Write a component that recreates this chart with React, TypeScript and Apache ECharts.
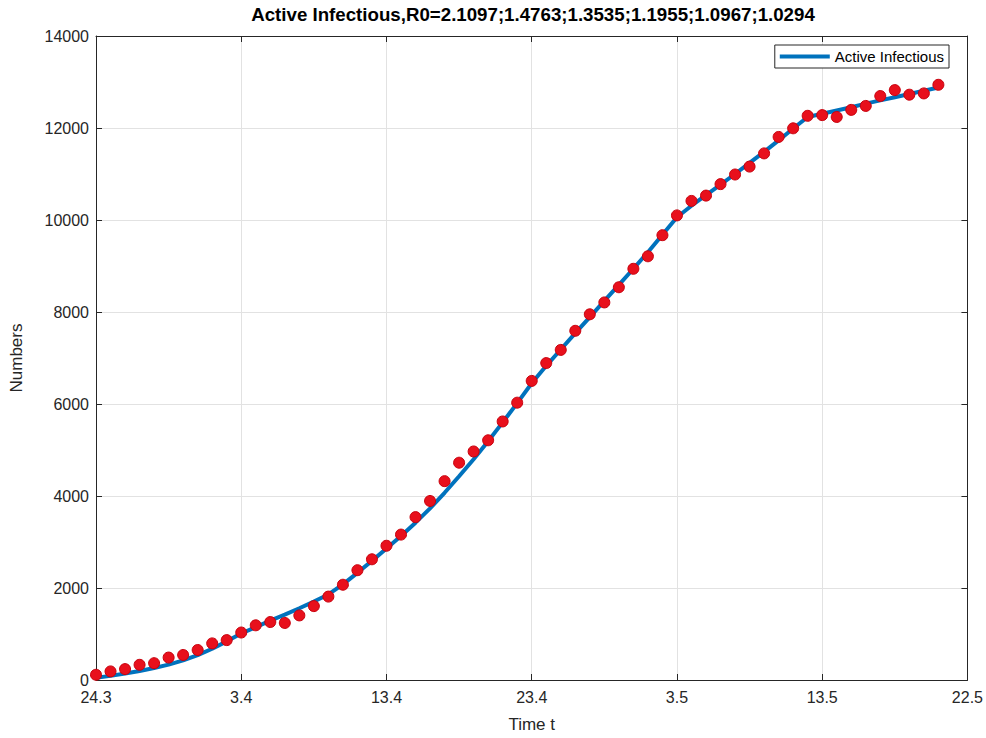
import React, { useEffect, useRef } from "react";
import * as echarts from "echarts";

const tickLabels = ["24.3", "3.4", "13.4", "23.4", "3.5", "13.5", "22.5"];
const days = Array.from({ length: 59 }, (_, i) => i);
const observed = [
  114, 187, 237, 330, 366, 488, 544, 652, 796, 867,
  1032, 1189, 1260, 1240, 1404, 1606, 1813, 2071, 2387, 2624,
  2918, 3161, 3541, 3892, 4323, 4724, 4968, 5211, 5620, 6029,
  6502, 6889, 7176, 7591, 7950, 8208, 8538, 8939, 9211, 9670,
  10100, 10415, 10530, 10780, 10989, 11161, 11448, 11806, 11993, 12265,
  12280, 12240, 12394, 12480, 12695, 12824, 12724, 12752, 12939,
];
const model = [
  50, 90, 140, 195, 260, 335, 425, 540, 680, 840,
  1010, 1150, 1290, 1420, 1560, 1705, 1860, 2080, 2330, 2590,
  2860, 3130, 3420, 3730, 4070, 4430, 4800, 5190, 5600, 6020,
  6450, 6830, 7185, 7540, 7890, 8240, 8590, 8940, 9300, 9680,
  10060, 10310, 10540, 10770, 11000, 11240, 11480, 11730, 11990, 12240,
  12310, 12380, 12450, 12530, 12600, 12670, 12740, 12810, 12880,
];
const titleText = "Active Infectious,R0=2.1097;1.4763;1.3535;1.1955;1.0967;1.0294";
const seriesName = "Active Infectious";

const FONT = '"Liberation Sans", Arial, sans-serif';
const AX = "#262626";
const GRID = "#e2e2e2";

export default function App() {
  const ref = useRef<HTMLDivElement>(null);
  useEffect(() => {
    if (!ref.current) return;
    const chart = echarts.init(ref.current, null, { renderer: "svg" });
    const xBase = {
      type: "value" as const,
      min: 0,
      max: 60,
      interval: 10,
    };
    const yBase = {
      type: "value" as const,
      min: 0,
      max: 14000,
      interval: 2000,
    };
    chart.setOption({
      animation: false,
      backgroundColor: "#ffffff",
      grid: { left: 89, right: 11, top: 36, bottom: 51, containLabel: false },
      graphic: [
        {
          type: "text",
          x: 533,
          y: 14,
          style: {
            text: titleText,
            textAlign: "center",
            textVerticalAlign: "middle",
            font: `bold 18.7px ${FONT}`,
            fill: "#000000",
          },
        },
      ],
      legend: {
        data: [{ name: seriesName, icon: "rect" }],
        right: 37,
        top: 45,
        orient: "vertical",
        itemWidth: 50,
        itemHeight: 4,
        padding: [4, 5, 4, 5],
        backgroundColor: "#ffffff",
        borderColor: AX,
        borderWidth: 1,
        borderRadius: 0,
        textStyle: { fontFamily: FONT, fontSize: 15, color: "#000" },
      },
      xAxis: [
        {
          ...xBase,
          position: "bottom",
          name: "Time t",
          nameLocation: "middle",
          nameGap: 36,
          nameTextStyle: { fontFamily: FONT, fontSize: 17, color: AX },
          axisLine: { show: true, lineStyle: { color: AX, width: 1 } },
          axisTick: { show: true, inside: true, length: 6, lineStyle: { color: AX } },
          axisLabel: {
            fontFamily: FONT,
            fontSize: 16,
            color: AX,
            margin: 9,
            formatter: (v: number) => tickLabels[Math.round(v / 10)] ?? "",
          },
          splitLine: { show: true, lineStyle: { color: GRID, width: 1 } },
        },
        {
          ...xBase,
          position: "top",
          axisLine: { show: true, onZero: false, lineStyle: { color: AX, width: 1 } },
          axisTick: { show: true, inside: true, length: 6, lineStyle: { color: AX } },
          axisLabel: { show: false },
          splitLine: { show: false },
        },
      ],
      yAxis: [
        {
          ...yBase,
          position: "left",
          name: "Numbers",
          nameLocation: "middle",
          nameGap: 71,
          nameTextStyle: { fontFamily: FONT, fontSize: 17, color: AX },
          axisLine: { show: true, lineStyle: { color: AX, width: 1 } },
          axisTick: { show: true, inside: true, length: 6, lineStyle: { color: AX } },
          axisLabel: {
            fontFamily: FONT,
            fontSize: 16,
            color: AX,
            margin: 7,
            formatter: (v: number) => String(v),
          },
          splitLine: { show: true, lineStyle: { color: GRID, width: 1 } },
        },
        {
          ...yBase,
          position: "right",
          axisLine: { show: true, onZero: false, lineStyle: { color: AX, width: 1 } },
          axisTick: { show: true, inside: true, length: 6, lineStyle: { color: AX } },
          axisLabel: { show: false },
          splitLine: { show: false },
        },
      ],
      series: [
        {
          name: seriesName,
          type: "line",
          data: days.map((d, i) => [d, model[i]]),
          showSymbol: false,
          symbol: "none",
          lineStyle: { color: "#0072BD", width: 4 },
          itemStyle: { color: "#0072BD" },
          z: 2,
        },
        {
          name: "observed",
          type: "scatter",
          data: days.map((d, i) => [d, observed[i]]),
          symbol: "circle",
          symbolSize: 11,
          itemStyle: { color: "#e8101c", borderColor: "#c8000c", borderWidth: 1, opacity: 1 },
          z: 3,
        },
      ],
    });
    return () => chart.dispose();
  }, []);
  return (
    <div
      ref={ref}
      style={{ position: "fixed", left: 0, top: 0, width: 986, height: 738 }}
    />
  );
}
